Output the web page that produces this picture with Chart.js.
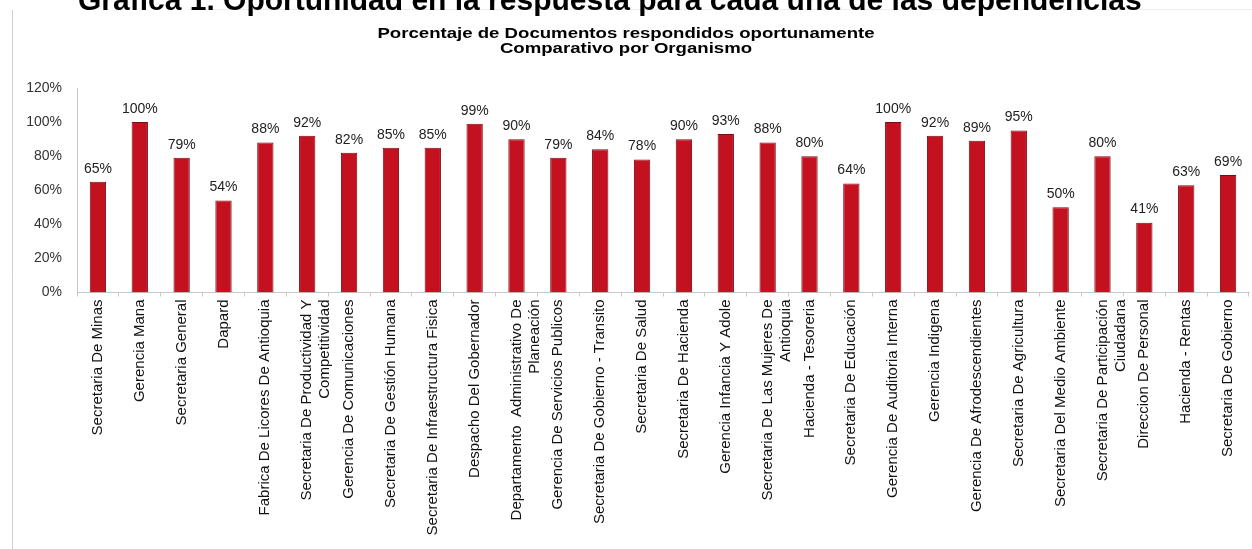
<!DOCTYPE html>
<html>
<head>
<meta charset="utf-8">
<script src="https://cdn.jsdelivr.net/npm/chart.js@4.4.1/dist/chart.umd.min.js"></script>
<style>
	html, body { margin: 0; padding: 0; background: #fff; }
	#wrap { width: 1252px; height: 549px; position: relative; }
</style>
</head>
<body>
<div id="wrap"><canvas id="myChart" width="1252" height="549"></canvas></div>
<script>
// datos
var organismos = [
	'Secretaria De Minas', 'Gerencia Mana', 'Secretaria General', 'Dapard',
	'Fabrica De Licores De Antioquia', ['Secretaria De Productividad Y', 'Competitividad'],
	'Gerencia De Comunicaciones', 'Secretaria De Gestión Humana',
	'Secretaria De Infraestructura Fisica', 'Despacho Del Gobernador',
	['Departamento  Administrativo De', 'Planeación'], 'Gerencia De Servicios Publicos',
	'Secretaria De Gobierno - Transito', 'Secretaria De Salud', 'Secretaria De Hacienda',
	'Gerencia Infancia Y Adole', ['Secretaria De Las Mujeres De', 'Antioquia'],
	'Hacienda - Tesoreria', 'Secretaria De Educación', 'Gerencia De Auditoria Interna',
	'Gerencia Indigena', 'Gerencia De Afrodescendientes', 'Secretaria De Agricultura',
	'Secretaria Del Medio Ambiente', ['Secretaria De Participación', 'Ciudadana'],
	'Direccion De Personal', 'Hacienda - Rentas', 'Secretaria De Gobierno'
];
var porcentajes = [65, 100, 79, 54, 88, 92, 82, 85, 85, 99, 90, 79, 84, 78, 90, 93, 88, 80, 64, 100, 92, 89, 95, 50, 80, 41, 63, 69];
var ticksY = [0, 20, 40, 60, 80, 100, 120];

var encabezado = 'Grafica 1. Oportunidad en la respuesta para cada una de las dependencias';
var titulo = ['Porcentaje de Documentos respondidos oportunamente', 'Comparativo por Organismo'];

var fuente = "'Liberation Sans', Arial, sans-serif";

// textos de arriba, marco y etiquetas de valor
var textosPlugin = {
	id : 'textos',
	beforeDraw : function(chart) {
		var ctx = chart.ctx;
		ctx.save();
		ctx.strokeStyle = '#d0d0d0';
		ctx.lineWidth = 1;
		ctx.beginPath();
		ctx.moveTo(12.5, 10);
		ctx.lineTo(12.5, 549);
		ctx.stroke();
		ctx.strokeStyle = '#ececec';
		ctx.beginPath();
		ctx.moveTo(190, 9.5);
		ctx.lineTo(1252, 9.5);
		ctx.stroke();
		ctx.fillStyle = '#000';
		ctx.font = 'bold 30px ' + fuente;
		ctx.textAlign = 'left';
		ctx.textBaseline = 'alphabetic';
		ctx.fillText(encabezado, 78, 10);
		// titulo algo ensanchado como en la imagen
		ctx.font = 'bold 15px ' + fuente;
		ctx.textAlign = 'center';
		ctx.translate(626, 0);
		ctx.scale(1.24, 1);
		ctx.fillText(titulo[0], 0, 38);
		ctx.fillText(titulo[1], 0, 53);
		ctx.restore();
	},
	afterDatasetsDraw : function(chart) {
		var ctx = chart.ctx;
		var meta = chart.getDatasetMeta(0);
		ctx.save();
		ctx.fillStyle = '#222';
		ctx.font = '14px ' + fuente;
		ctx.textAlign = 'center';
		ctx.textBaseline = 'bottom';
		meta.data.forEach(function(bar, i) {
			ctx.fillText(porcentajes[i] + '%', bar.x, bar.y - 6);
		});
		ctx.restore();
	}
};

var ctx = document.getElementById('myChart').getContext('2d');
var chart = new Chart(ctx, {
	type : 'bar',
	data : {
		labels : organismos,
		datasets : [ {
			label : 'Porcentaje',
			data : porcentajes,
			backgroundColor : '#c4111f',
			borderColor : '#7e0a14',
			borderWidth : 1,
			categoryPercentage : 1,
			barPercentage : 0.39
		} ]
	},
	plugins : [ textosPlugin ],
	options : {
		responsive : false,
		animation : false,
		layout : {
			padding : { top : 88, right : 3, left : 0, bottom : 0 }
		},
		plugins : {
			legend : { display : false },
			tooltip : { enabled : false }
		},
		scales : {
			y : {
				min : 0,
				max : 120,
				afterBuildTicks : function(scale) {
					scale.ticks = ticksY.map(function(v) { return { value : v }; });
				},
				afterFit : function(scale) { scale.width = 77; },
				grid : { display : false, drawTicks : false },
				border : { display : true, color : '#c8c8c8' },
				ticks : {
					padding : 15,
					color : '#333',
					font : { family : fuente, size : 14 },
					callback : function(v) { return v + '%'; }
				}
			},
			x : {
				afterFit : function(scale) { scale.height = 549 - 292.5; },
				grid : { display : true, drawOnChartArea : false, offset : true, tickLength : 4, color : '#c8c8c8' },
				border : { display : true, color : '#c8c8c8' },
				ticks : {
					autoSkip : false,
					minRotation : 90,
					maxRotation : 90,
					padding : 3,
					color : '#111',
					font : { family : fuente, size : 15 }
				}
			}
		}
	}
});
</script>
</body>
</html>
